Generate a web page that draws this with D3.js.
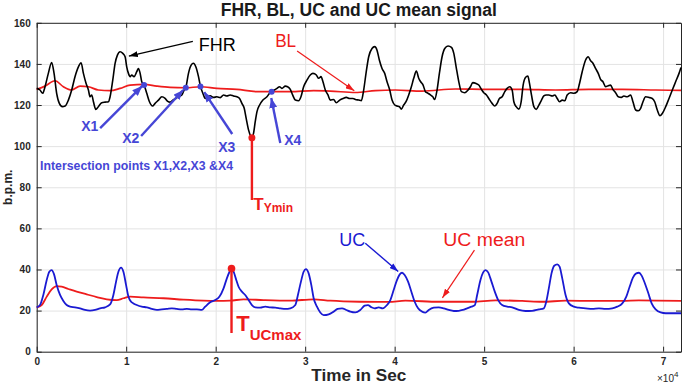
<!DOCTYPE html>
<html>
<head>
<meta charset="utf-8">
<script src="https://cdn.jsdelivr.net/npm/d3@7"></script>
<style>
  body { margin: 0; background: #fff; }
  text { font-family: "Liberation Sans", Arial, sans-serif; }
</style>
</head>
<body>
<div id="chart-area"></div>
<script>

// FHR signal, [time in sec, b.p.m.]
var fhr = [[0,128.1],[370,127.3],[670,125.7],[930,128.9],[1300,135.4],[1670,140.7],[1940,135.4],[2230,125.7],[2530,120.8],[2870,119.2],[3170,119.5],[3540,122.4],[3910,127.3],[4280,133.8],[4660,138.6],[4960,140.6],[5220,135.4],[5520,130.5],[5780,127.3],[5960,124.0],[6150,124.9],[6340,121.6],[6600,117.9],[6890,119.2],[7270,121.1],[7640,121.4],[8010,121.6],[8200,124.0],[8500,132.1],[8760,140.3],[9020,144.3],[9320,145.9],[9620,145.1],[9880,143.5],[10060,138.6],[10250,135.4],[10440,133.8],[10620,134.6],[10880,133.8],[11180,136.2],[11370,137.8],[11560,135.4],[11740,131.3],[12000,129.7],[12300,125.7],[12600,121.6],[12940,119.5],[13230,120.8],[13610,122.4],[13980,124.0],[14350,123.2],[14610,121.9],[14910,121.4],[15210,122.4],[15550,123.2],[15840,124.0],[16220,124.9],[16480,127.3],[16660,128.4],[16960,135.4],[17260,139.4],[17520,140.3],[17780,138.6],[18080,133.8],[18300,129.1],[18570,125.7],[18830,123.2],[19090,124.0],[19390,124.5],[19760,123.7],[20130,124.0],[20510,123.6],[20880,124.9],[21250,124.4],[21620,124.9],[22000,124.4],[22370,124.0],[22670,123.2],[22930,120.8],[23190,118.4],[23410,113.5],[23680,107.8],[23940,104.6],[24050,104.1],[24230,106.2],[24420,111.9],[24610,116.7],[24910,120.0],[25280,122.4],[25730,124.0],[26020,125.7],[26250,126.5],[26550,127.3],[26850,128.1],[27140,128.9],[27400,128.1],[27780,129.2],[28040,128.9],[28340,127.6],[28600,124.9],[28900,122.4],[29270,122.1],[29530,124.0],[29830,128.9],[30200,132.1],[30570,134.6],[30870,135.4],[31250,134.6],[31510,133.0],[31770,133.8],[31990,131.3],[32250,127.3],[32550,124.9],[32810,122.4],[33180,122.7],[33480,121.1],[33860,122.4],[34230,123.2],[34600,123.7],[34970,123.2],[35350,123.2],[35610,122.7],[35980,122.4],[36280,122.1],[36540,127.3],[36800,135.4],[37100,143.5],[37470,147.5],[37770,148.4],[38030,146.7],[38290,141.9],[38590,137.8],[38890,135.4],[39150,131.3],[39450,127.3],[39710,122.4],[40010,120.0],[40270,119.5],[40530,119.2],[40750,118.0],[41010,120.0],[41270,121.6],[41570,124.9],[41870,128.9],[42130,133.0],[42430,136.5],[42690,133.0],[42910,131.3],[43180,129.7],[43440,126.5],[43730,125.7],[44000,124.9],[44260,124.0],[44480,122.7],[44740,127.3],[45000,135.4],[45300,143.5],[45600,147.5],[45970,148.7],[46350,148.0],[46610,145.1],[46870,138.6],[47170,131.3],[47460,126.5],[47840,126.0],[48210,127.3],[48470,128.9],[48730,130.9],[49100,130.5],[49400,129.7],[49700,127.6],[49960,126.0],[50260,124.9],[50520,123.2],[50890,120.8],[51190,119.5],[51450,120.8],[51710,123.2],[52010,124.0],[52310,126.5],[52570,128.1],[52870,128.9],[53130,127.3],[53320,121.6],[53580,119.2],[53880,118.0],[54140,121.6],[54360,129.7],[54620,133.4],[54880,134.1],[55070,130.5],[55290,124.9],[55560,119.2],[55820,117.9],[56120,120.0],[56410,122.4],[56670,124.4],[56940,124.9],[57230,124.9],[57610,124.4],[57900,124.9],[58170,123.2],[58430,121.6],[58730,122.4],[59020,122.1],[59280,124.9],[59660,126.0],[60030,125.7],[60400,126.5],[60660,130.5],[60960,136.2],[61340,141.9],[61630,143.5],[61900,141.5],[62160,140.3],[62450,137.8],[62750,135.4],[63010,132.5],[63280,131.3],[63570,128.9],[63870,129.4],[64130,129.7],[64390,127.6],[64690,126.0],[64990,124.0],[65330,123.7],[65620,124.4],[66000,124.0],[66370,124.9],[66630,121.6],[66930,117.6],[67230,117.2],[67490,118.4],[67750,121.6],[68050,124.0],[68420,123.7],[68790,123.2],[69060,121.6],[69350,117.6],[69650,114.8],[69910,115.9],[70290,119.2],[70660,123.2],[71030,127.3],[71400,131.3],[71780,135.4],[72000,138.3]];

// baseline of FHR
var bl = [[0,127.6],[930,129.2],[2050,131.8],[2980,128.9],[3910,127.3],[4840,129.2],[5780,128.9],[6890,127.3],[8200,127.0],[9320,128.1],[10440,129.7],[12000,130.0],[13420,129.2],[14910,128.6],[16660,128.4],[18300,128.9],[20130,128.1],[22370,127.6],[24610,126.5],[26250,126.5],[28340,126.5],[30950,127.0],[32810,126.8],[35610,126.1],[37840,127.0],[40080,127.3],[43060,126.8],[46790,127.8],[50520,127.6],[54250,127.6],[57980,127.3],[61710,127.6],[65440,127.6],[69170,127.3],[72000,127.1]];

// uterine contractions
var uc = [[0,21.6],[370,22.7],[740,27.6],[1120,34.9],[1410,38.9],[1670,39.7],[1940,37.6],[2230,32.4],[2610,27.6],[2980,24.7],[3350,22.7],[3730,21.9],[4280,21.6],[4840,21.1],[5400,20.3],[5960,20.0],[6520,20.3],[7080,21.1],[7640,21.6],[8200,23.0],[8570,27.6],[8870,34.1],[9130,38.9],[9430,40.9],[9690,38.9],[9990,32.4],[10250,26.8],[10550,24.3],[10810,23.5],[11180,22.7],[11740,21.9],[12300,21.6],[12860,20.8],[13420,20.3],[13980,20.6],[14540,20.8],[15100,21.1],[15660,20.8],[16220,20.6],[16780,20.8],[17340,20.6],[17900,20.6],[18450,20.3],[18830,21.9],[19390,24.0],[19950,25.1],[20430,26.8],[20880,30.8],[21250,35.7],[21550,38.9],[21770,40.5],[22000,38.9],[22300,34.9],[22560,31.6],[22930,29.2],[23300,27.6],[23680,25.1],[24050,22.7],[24420,21.6],[24980,21.4],[25540,21.9],[26100,21.6],[26660,21.4],[27220,21.1],[27780,20.8],[28340,21.1],[28900,22.7],[29190,27.6],[29530,34.1],[29830,38.9],[30090,40.2],[30390,38.1],[30690,32.4],[30950,26.0],[31320,21.9],[31690,19.1],[32070,17.8],[32630,18.2],[33180,19.5],[33630,20.8],[34120,21.1],[34600,20.3],[35050,19.5],[35610,19.1],[36160,20.3],[36650,22.4],[37020,22.7],[37400,21.6],[37770,21.1],[38220,21.6],[38660,21.1],[39150,22.7],[39520,25.1],[39890,30.0],[40270,34.9],[40570,37.6],[40830,38.4],[41120,37.3],[41500,34.1],[41870,29.2],[42240,24.3],[42620,21.1],[43060,19.5],[43440,19.0],[43810,20.3],[44370,21.4],[44930,21.6],[45490,21.1],[46050,20.3],[46610,19.8],[47170,19.9],[47610,20.3],[48100,21.1],[48580,21.9],[48960,22.7],[49220,27.6],[49590,34.9],[49890,38.6],[50150,39.7],[50450,38.6],[50820,34.1],[51190,29.2],[51570,25.1],[52010,22.7],[52570,21.9],[53130,21.6],[53880,20.3],[54620,19.8],[55370,19.9],[56120,20.6],[56670,21.1],[56940,24.3],[57230,30.8],[57530,38.1],[57830,41.8],[58170,42.5],[58430,41.4],[58730,35.7],[59100,27.6],[59470,23.5],[60030,21.9],[60590,21.4],[61340,21.1],[62080,20.8],[62830,21.1],[63570,20.8],[64320,21.1],[64880,21.9],[65440,23.5],[65890,26.8],[66260,31.6],[66630,36.0],[67000,38.1],[67300,38.4],[67600,37.0],[67970,33.2],[68350,28.4],[68720,23.5],[69170,20.6],[69730,19.1],[70290,18.7],[72000,18.7]];

// running mean of UC
var ucMean = [[0,21.6],[560,22.7],[1120,26.8],[1670,30.3],[2230,31.9],[2790,31.6],[3540,30.5],[4470,29.2],[5590,27.9],[6710,26.6],[7830,25.5],[8950,25.1],[9690,26.0],[10440,26.8],[11930,26.4],[14170,26.0],[16400,25.3],[18640,24.8],[20130,24.7],[21620,24.8],[23120,25.5],[25350,25.1],[28340,24.8],[30950,25.5],[32810,24.8],[36090,24.3],[39330,24.2],[41200,24.8],[44930,24.3],[48660,24.3],[51270,25.0],[54250,24.7],[56490,24.3],[59100,24.8],[61710,24.7],[65440,24.7],[67300,25.0],[72000,24.7]];

// intersection points of FHR and BL
var xNames = ["X1", "X2", "X3", "X4"];
var xPoints = [[12000,129.7],[16660,128.4],[18300,129.0],[26250,126.5]];

var tYmin = [24050, 104.1];
var tUCmax = [21770, 40.5];

var xTicks = [0, 10000, 20000, 30000, 40000, 50000, 60000, 70000];
var yTicks = [0, 20, 40, 60, 80, 100, 120, 140, 160];

var margin = {top: 22.8, right: 6, bottom: 33.3, left: 36.7},
    width = 687 - margin.left - margin.right,
    height = 385 - margin.top - margin.bottom;

var svg = d3.select("#chart-area").append("svg")
    .attr("width", width + margin.left + margin.right)
    .attr("height", height + margin.top + margin.bottom);

var defs = svg.append("defs");
function arrowHead(id, color, w, h) {
    defs.append("marker")
        .attr("id", id)
        .attr("markerUnits", "userSpaceOnUse")
        .attr("viewBox", "0 0 " + w + " " + h)
        .attr("refX", w).attr("refY", h / 2)
        .attr("markerWidth", w).attr("markerHeight", h)
        .attr("orient", "auto")
      .append("path")
        .attr("d", "M0,0L" + w + "," + (h / 2) + "L0," + h + "Z")
        .attr("fill", color);
}
arrowHead("head-black", "#000", 9, 6);
arrowHead("head-red", "#ee1c1c", 9, 6);
arrowHead("head-blue", "#1a1ad2", 9, 6);
arrowHead("head-xblue", "#4646d6", 10, 8);

var g = svg.append("g")
    .attr("transform", "translate(" + margin.left + "," + margin.top + ")");

// Scales
var x = d3.scaleLinear().domain([0, 72000]).range([0, width]);
var y = d3.scaleLinear().domain([0, 160]).range([height, 0]);

// Grid
g.append("g")
    .attr("transform", "translate(0," + height + ")")
    .call(d3.axisBottom(x).tickValues(xTicks).tickSize(-height).tickFormat(""))
    .call((a) => { a.select(".domain").remove(); a.selectAll("line").attr("stroke", "#e3e3e3"); });
g.append("g")
    .call(d3.axisLeft(y).tickValues(yTicks).tickSize(-width).tickFormat(""))
    .call((a) => { a.select(".domain").remove(); a.selectAll("line").attr("stroke", "#e3e3e3"); });

// Axes, MATLAB style box with inward ticks
function styleAxis(a) {
    a.select(".domain").attr("stroke", "#262626");
    a.selectAll("line").attr("stroke", "#262626");
    a.selectAll("text").attr("fill", "#262626")
        .style("font-size", "10px").style("font-weight", "bold");
}
g.append("g")
    .attr("transform", "translate(0," + height + ")")
    .call(d3.axisBottom(x).tickValues(xTicks).tickSizeInner(-5).tickSizeOuter(0).tickPadding(6)
        .tickFormat((d) => d / 10000))
    .call(styleAxis);
g.append("g")
    .call(d3.axisLeft(y).tickValues(yTicks).tickSizeInner(-5).tickSizeOuter(0).tickPadding(6))
    .call(styleAxis);
g.append("g")
    .call(d3.axisTop(x).tickValues(xTicks).tickSizeInner(-5).tickSizeOuter(0).tickFormat(""))
    .call(styleAxis);
g.append("g")
    .attr("transform", "translate(" + width + ",0)")
    .call(d3.axisRight(y).tickValues(yTicks).tickSizeInner(-5).tickSizeOuter(0).tickFormat(""))
    .call(styleAxis);

// Lines
var line = d3.line()
    .x((d) => x(d[0]))
    .y((d) => y(d[1]))
    .curve(d3.curveMonotoneX);

g.append("path").datum(bl)
    .attr("fill", "none").attr("stroke", "#ee1c1c").attr("stroke-width", 1.7)
    .attr("d", line);
g.append("path").datum(fhr)
    .attr("fill", "none").attr("stroke", "#000").attr("stroke-width", 1.6)
    .attr("stroke-linejoin", "round")
    .attr("d", line);
g.append("path").datum(ucMean)
    .attr("fill", "none").attr("stroke", "#ee1c1c").attr("stroke-width", 1.8)
    .attr("d", line);
g.append("path").datum(uc)
    .attr("fill", "none").attr("stroke", "#1a1ad2").attr("stroke-width", 1.8)
    .attr("stroke-linejoin", "round")
    .attr("d", line);

// Annotations
function arrow(x1, y1, x2, y2, color, w, head) {
    g.append("line")
        .attr("x1", x(x1)).attr("y1", y(y1))
        .attr("x2", x(x2)).attr("y2", y(y2))
        .attr("stroke", color).attr("stroke-width", w)
        .attr("marker-end", "url(#" + head + ")");
}
function label(txt, tx, ty, size, color, weight, len) {
    var t = g.append("text")
        .attr("x", x(tx)).attr("y", y(ty))
        .attr("fill", color)
        .style("font-size", size + "px")
        .style("font-weight", weight)
        .text(txt);
    if (len) t.attr("textLength", len).attr("lengthAdjust", "spacingAndGlyphs");
    return t;
}

label("FHR", 18100, 146.3, 18, "#000", "normal", 37);
arrow(17450, 151, 10300, 143.8, "#000", 1.2, "head-black");

label("BL", 26650, 148, 18, "#ee1c1c", "normal", 21);
arrow(29100, 146.3, 35490, 126.9, "#ee1c1c", 1.2, "head-red");

label("UC", 33800, 51.3, 18, "#1a1ad2", "normal", 26);
arrow(36720, 52.8, 40400, 39, "#1a1ad2", 1.4, "head-blue");

label("UC mean", 45440, 51.3, 18, "#ee1c1c", "normal", 82);
arrow(48920, 49.4, 45340, 26.2, "#ee1c1c", 1.2, "head-red");

// X1..X4 labels and arrows
var xLabelPos = [[4970, 107.4], [9550, 101.5], [20280, 97.1], [27660, 100.5]];
var xArrowFrom = [[7090, 108.8], [11670, 104.9], [21850, 105.9], [27220, 101.5]];
var xArrowTo = [[11780, 129.2], [16370, 127.3], [18720, 126.3], [26210, 123.4]];
xNames.forEach((n, i) => {
    label(n, xLabelPos[i][0], xLabelPos[i][1], 14, "#4646d6", "bold");
    arrow(xArrowFrom[i][0], xArrowFrom[i][1], xArrowTo[i][0], xArrowTo[i][1], "#4646d6", 2.4, "head-xblue");
});
g.selectAll(".xpt").data(xPoints).enter().append("circle")
    .attr("class", "xpt")
    .attr("cx", (d) => x(d[0])).attr("cy", (d) => y(d[1]))
    .attr("r", 3).attr("fill", "#4646d6");

label("Intersection points X1,X2,X3 &X4", 370, 88.4, 12.3, "#4646d6", "bold", 193);

// T_Ymin marker
g.append("line")
    .attr("x1", x(tYmin[0])).attr("y1", y(tYmin[1]))
    .attr("x2", x(tYmin[0])).attr("y2", y(73.8))
    .attr("stroke", "#ee1c1c").attr("stroke-width", 2.4);
g.append("circle")
    .attr("cx", x(tYmin[0])).attr("cy", y(tYmin[1]))
    .attr("r", 3.5).attr("fill", "#ee1c1c");
var ty = label("T", 24200, 68.9, 17, "#ee1c1c", "bold");
ty.append("tspan").attr("dy", 2).style("font-size", "12px").text("Ymin");

// T_UCmax marker
g.append("line")
    .attr("x1", x(tUCmax[0])).attr("y1", y(tUCmax[1]))
    .attr("x2", x(tUCmax[0])).attr("y2", y(9.1))
    .attr("stroke", "#ee1c1c").attr("stroke-width", 2.4);
g.append("circle")
    .attr("cx", x(tUCmax[0])).attr("cy", y(tUCmax[1]))
    .attr("r", 3.8).attr("fill", "#ee1c1c");
var tu = label("T", 22300, 10.1, 22, "#ee1c1c", "bold");
tu.append("tspan").attr("dy", 9).style("font-size", "15px").text("UCmax");

// Title and axis labels
svg.append("text")
    .attr("x", margin.left + width / 2).attr("y", 16)
    .attr("text-anchor", "middle")
    .attr("fill", "#1a1a1a")
    .style("font-size", "17.5px").style("font-weight", "bold")
    .text("FHR, BL, UC and UC mean signal");

svg.append("text")
    .attr("x", margin.left + width / 2).attr("y", 381)
    .attr("text-anchor", "middle")
    .attr("fill", "#262626")
    .attr("textLength", 95).attr("lengthAdjust", "spacingAndGlyphs")
    .style("font-size", "16px").style("font-weight", "bold")
    .text("Time in Sec");

svg.append("text")
    .attr("transform", "translate(12," + (margin.top + height / 2) + ") rotate(-90)")
    .attr("text-anchor", "middle")
    .attr("fill", "#262626")
    .style("font-size", "12px").style("font-weight", "bold")
    .text("b.p.m.");

var sci = svg.append("text")
    .attr("x", 657).attr("y", 382)
    .attr("fill", "#262626")
    .style("font-size", "10px")
    .text("\u00d710");
sci.append("tspan").attr("dy", -5).style("font-size", "8px").text("4");

</script>
</body>
</html>
